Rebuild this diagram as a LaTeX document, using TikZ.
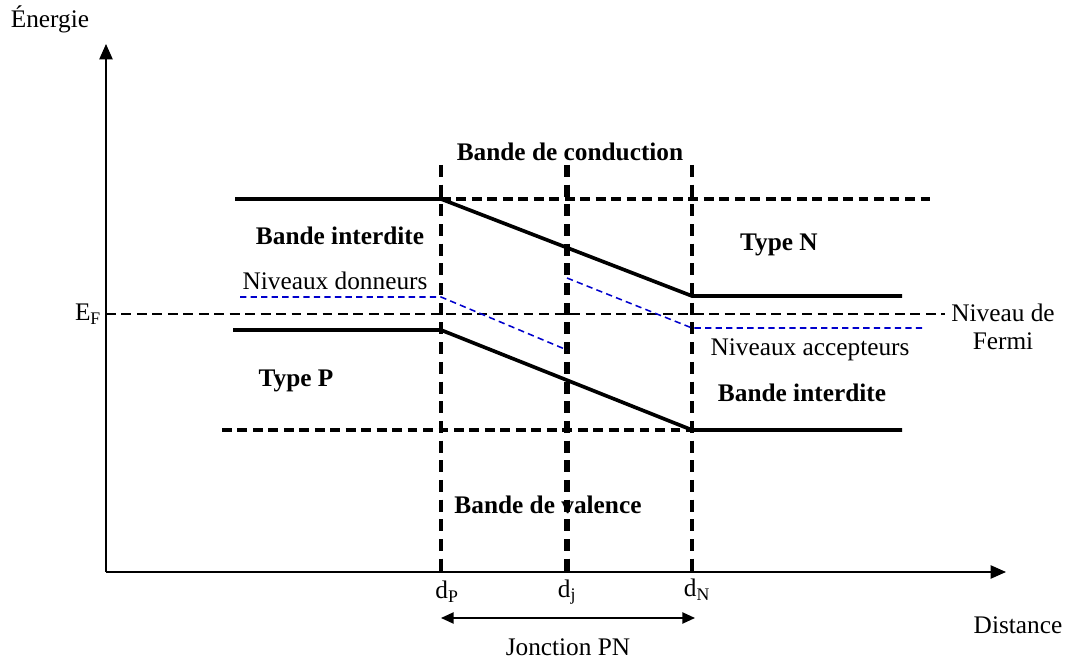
\documentclass[tikz,border=0pt]{standalone}
\usepackage{fontspec}
\setmainfont{Liberation Serif}
\usetikzlibrary{arrows.meta}

\begin{document}
\begin{tikzpicture}[x=0.025cm, y=-0.025cm,
    band/.style={line width=2.6pt},
    gapline/.style={line width=2.6pt, dash pattern=on 7pt off 4pt},
    level/.style={blue!80!black, line width=1.1pt, dash pattern=on 4.5pt off 3pt},
    limit/.style={line width=2.8pt, dash pattern=on 8.5pt off 5.5pt},
    fermi/.style={line width=1.4pt, dash pattern=on 7pt off 4pt},
    axis/.style={line width=1.1pt, -{Triangle[length=11pt,width=9.5pt]}},
    lbl/.style={font=\fontsize{18}{20}\selectfont},
    title/.style={font=\fontsize{18}{20}\selectfont\bfseries}]
  \useasboundingbox (0,0) rectangle (1066,661);
  % axes
  \coordinate (O) at (106,572);
  \coordinate (Ytop) at (106,44);
  \coordinate (Xend) at (1006,572);
  \draw[axis] (O) -- (Ytop);
  \draw[axis] (O) -- (Xend);
  \node[lbl] (energie) at (50,19) {Énergie};
  \node[lbl] (distance) at (1018,625) {Distance};
  % limits of the junction
  \coordinate (P1) at (441,165);
  \coordinate (P2) at (441,572);
  \coordinate (J1) at (567,165);
  \coordinate (J2) at (567,572);
  \coordinate (N1) at (692,165);
  \coordinate (N2) at (692,572);
  \draw[limit] (P1) -- (P2);
  \draw[limit, line width=3.6pt] (J1) -- (J2);
  \draw[limit] (N1) -- (N2);
  \node[lbl] (dP) at (447,592) {d\textsubscript{P}};
  \node[lbl] (dj) at (567,592) {d\textsubscript{j}};
  \node[lbl] (dN) at (697,590) {d\textsubscript{N}};
  \coordinate (JP) at (441,618);
  \coordinate (JN) at (695,618);
  \draw[line width=1.1pt, {Triangle[length=9pt,width=8pt]}-{Triangle[length=9pt,width=8pt]}] (JP) -- (JN);
  \node[lbl] (jonction) at (568,647) {Jonction PN};
  % Fermi level
  \node[lbl, anchor=east] (EF) at (106,314) {E\textsubscript{F}};
  \coordinate (F2) at (945,314);
  \draw[fermi] (EF.east) -- (F2);
  \node[lbl, align=center] (fermilbl) at (1003,327) {Niveau de\\Fermi};
  % conduction band
  \coordinate (C1) at (235,199);
  \coordinate (C2) at (441,199);
  \coordinate (C3) at (692,296);
  \coordinate (C4) at (902,296);
  \coordinate (C5) at (930,199);
  \draw[band] (C1) -- (C2) -- (C3) -- (C4);
  \draw[gapline] (C2) -- (C5);
  % valence band
  \coordinate (V1) at (233,330);
  \coordinate (V2) at (441,330);
  \coordinate (V3) at (692,430);
  \coordinate (V4) at (902,430);
  \coordinate (V5) at (222,430);
  \draw[band] (V1) -- (V2) -- (V3) -- (V4);
  \draw[gapline] (V5) -- (V3);
  % donor and acceptor levels
  \coordinate (D1) at (240,297);
  \coordinate (D2) at (441,297);
  \coordinate (D3) at (567,350);
  \coordinate (A1) at (567,278);
  \coordinate (A2) at (692,328);
  \coordinate (A3) at (922,328);
  \draw[level] (D1) -- (D2) -- (D3);
  \draw[level] (A1) -- (A2) -- (A3);
  % labels
  \node[title] (conduction) at (570,152) {Bande de conduction};
  \node[title] (gapP) at (340,236) {Bande interdite};
  \node[lbl] (donneurs) at (335,281) {Niveaux donneurs};
  \node[title] (typeN) at (779,245) {Type N};
  \node[title] (typeP) at (296,381) {Type P};
  \node[lbl] (accepteurs) at (810,350) {Niveaux accepteurs};
  \node[title] (gapN) at (802,393) {Bande interdite};
  \node[title] (valence) at (548,505) {Bande de valence};
\end{tikzpicture}
\end{document}
